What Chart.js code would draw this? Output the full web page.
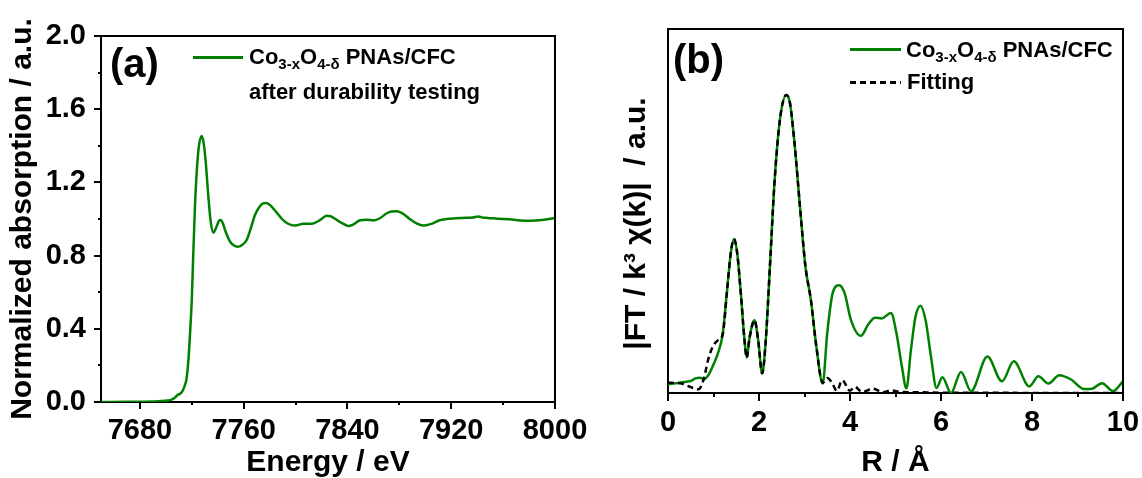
<!DOCTYPE html>
<html>
<head>
<meta charset="utf-8">
<script src="https://cdn.jsdelivr.net/npm/chart.js@4/dist/chart.umd.min.js"></script>
<style>
  body { margin:0; background:#fff; }
  #wrap { position:relative; width:1142px; height:478px; overflow:hidden; background:#fff; }
  canvas { position:absolute; top:0; }
  .t { position:absolute; font-family:"Liberation Sans", Arial, sans-serif; font-weight:bold; color:#000; white-space:nowrap; }
  .pl { font-size:40px; line-height:40px; }
  .lg { font-size:22px; line-height:22px; }
  .lg sub { font-size:15px; vertical-align:-5px; line-height:0; }
  .sw { position:absolute; height:3px; }
</style>
</head>
<body>
<div id="wrap">
  <canvas id="ca" width="600" height="478" style="left:0"></canvas>
  <canvas id="cb" width="542" height="478" style="left:600px"></canvas>

  <div class="t pl" style="left:110px;top:43px">(a)</div>
  <div class="sw" style="left:193px;top:56px;width:50px;background:#008000"></div>
  <div class="t lg" style="left:249px;top:46px">Co<sub>3-x</sub>O<sub>4-δ</sub> PNAs/CFC</div>
  <div class="t lg" style="left:249px;top:81px">after durability testing</div>

  <div class="t pl" style="left:673px;top:39px">(b)</div>
  <div class="sw" style="left:850px;top:48px;width:51px;background:#008000"></div>
  <div class="t lg" style="left:906px;top:39px">Co<sub>3-x</sub>O<sub>4-δ</sub> PNAs/CFC</div>
  <div class="sw" style="left:850px;top:81px;width:51px;background:repeating-linear-gradient(90deg,#000 0 6px,transparent 6px 10px)"></div>
  <div class="t lg" style="left:907px;top:71px">Fitting</div>
</div>
<script>
// ---------- Panel (a): XANES ----------
const energyA = [7650, 7670, 7690, 7700, 7704, 7707, 7709, 7711.5, 7713, 7714.8, 7716, 7717.5, 7719, 7720, 7721, 7722.5, 7724, 7725.5, 7727.6, 7729, 7730.5, 7732.8, 7734.5, 7736.6, 7738, 7739.7, 7741, 7742.5, 7744, 7745.6, 7749.5, 7752.5, 7755.4, 7758.5, 7762.3, 7765.5, 7768.7, 7772.5, 7775, 7777.2, 7780, 7785.5, 7789.5, 7793.2, 7796.5, 7799.6, 7806, 7813.7, 7819, 7824, 7827, 7831.7, 7836.5, 7840.7, 7844, 7849.7, 7855, 7860, 7865, 7870, 7874, 7878, 7883, 7888, 7893, 7898.5, 7904, 7911, 7919.6, 7928, 7936.5, 7940.8, 7945, 7948, 7956, 7964.7, 7973, 7981.6, 7990, 8000];
const absorbA = [0.000, 0.001, 0.003, 0.007, 0.012, 0.024, 0.038, 0.048, 0.062, 0.095, 0.13, 0.24, 0.42, 0.56, 0.78, 1.08, 1.28, 1.40, 1.453, 1.42, 1.33, 1.12, 0.99, 0.925, 0.94, 0.97, 0.99, 0.995, 0.975, 0.94, 0.876, 0.855, 0.849, 0.857, 0.885, 0.95, 1.022, 1.07, 1.085, 1.088, 1.078, 1.035, 1.0, 0.978, 0.968, 0.965, 0.974, 0.976, 0.995, 1.018, 1.015, 0.995, 0.975, 0.962, 0.968, 0.993, 0.996, 0.992, 1.004, 1.03, 1.041, 1.042, 1.028, 1.0, 0.977, 0.964, 0.972, 0.993, 1.002, 1.006, 1.008, 1.014, 1.007, 1.006, 1.001, 0.999, 0.992, 0.991, 0.995, 1.005];
const xMajorA = [7680, 7760, 7840, 7920, 8000];
const xMinorA = [7720, 7800, 7880, 7960];
const yMajorA = [0, 0.4, 0.8, 1.2, 1.6, 2.0];
const yMinorA = [0.2, 0.6, 1.0, 1.4, 1.8];

// ---------- Panel (b): FT-EXAFS ----------
const rData = [0, 0.1, 0.25, 0.4, 0.5, 0.6, 0.7, 0.8, 0.9, 1.0, 1.1, 1.2, 1.3, 1.38, 1.45, 1.52, 1.6, 1.68, 1.73, 1.79, 1.9, 1.98, 2.07, 2.15, 2.24, 2.34, 2.46, 2.6, 2.68, 2.78, 2.9, 3.02, 3.14, 3.26, 3.4, 3.5, 3.62, 3.76, 3.88, 4.02, 4.24, 4.4, 4.55, 4.7, 4.9, 5.02, 5.14, 5.24, 5.34, 5.44, 5.55, 5.66, 5.78, 5.9, 6.03, 6.22, 6.44, 6.66, 7.02, 7.34, 7.6, 7.94, 8.14, 8.36, 8.6, 8.86, 9.14, 9.3, 9.54, 9.78, 10];
const ftData = [0.24, 0.26, 0.28, 0.31, 0.33, 0.40, 0.42, 0.38, 0.52, 0.78, 1.1, 1.6, 2.84, 3.85, 4.23, 3.85, 2.75, 1.47, 0.97, 1.5, 2.0, 1.47, 0.54, 1.47, 3.48, 5.77, 7.51, 8.19, 7.97, 6.87, 5.13, 3.48, 2.56, 1.28, 0.26, 1.65, 2.75, 2.96, 2.75, 2.01, 1.57, 1.88, 2.07, 2.05, 2.2, 1.65, 0.73, 0.13, 1.19, 2.1, 2.4, 2.01, 1.0, 0.14, 0.43, 0.0, 0.58, 0.05, 1.0, 0.32, 0.87, 0.18, 0.46, 0.26, 0.49, 0.37, 0.11, 0.11, 0.27, 0.05, 0.32];
const rFit = [0, 0.26, 0.48, 0.67, 0.78, 0.89, 0.99, 1.1, 1.2, 1.3, 1.38, 1.45, 1.52, 1.6, 1.68, 1.73, 1.79, 1.9, 1.98, 2.07, 2.15, 2.24, 2.34, 2.46, 2.6, 2.68, 2.78, 2.9, 3.02, 3.14, 3.26, 3.4, 3.5, 3.6, 3.71, 3.83, 4.0, 4.1, 4.27, 4.5, 4.72, 4.9, 5.1, 5.5, 6.0, 7.0, 8.0, 9.0, 10];
const ftFit = [0.28, 0.27, 0.17, 0.10, 0.36, 0.95, 1.29, 1.45, 1.6, 2.84, 3.85, 4.23, 3.85, 2.75, 1.47, 0.97, 1.5, 2.0, 1.47, 0.54, 1.47, 3.48, 5.77, 7.51, 8.19, 7.97, 6.87, 5.13, 3.48, 2.56, 1.28, 0.28, 0.41, 0.29, 0.06, 0.35, 0.06, 0.17, 0.03, 0.12, 0.02, 0.07, 0.03, 0.02, 0.01, 0.01, 0, 0, 0];
const xMajorB = [0, 2, 4, 6, 8, 10];
const xMinorB = [1, 3, 5, 7, 9];

const FONT = '"Liberation Sans", Arial, sans-serif';
const GREEN = '#008000';

const framePlugin = {
  id: 'frame',
  afterDraw(chart, args, o) {
    const { ctx, chartArea: a } = chart;
    const xs = chart.scales.x, ys = chart.scales.y;
    ctx.save();
    ctx.strokeStyle = '#000';
    ctx.lineWidth = 2;
    ctx.beginPath();
    ctx.moveTo(a.left - 1, a.top);
    ctx.lineTo(a.right, a.top);
    ctx.lineTo(a.right, a.bottom + 1);
    ctx.stroke();
    const seg = (x1, y1, x2, y2) => { ctx.beginPath(); ctx.moveTo(x1, y1); ctx.lineTo(x2, y2); ctx.stroke(); };
    (o.xMajor || []).forEach(v => { const p = Math.round(xs.getPixelForValue(v)); seg(p, a.bottom, p, a.bottom + o.majorLen); });
    (o.xMinor || []).forEach(v => { const p = Math.round(xs.getPixelForValue(v)); seg(p, a.bottom, p, a.bottom + o.minorLen); });
    (o.yMajor || []).forEach(v => { const p = Math.round(ys.getPixelForValue(v)); seg(a.left, p, a.left - o.majorLen, p); });
    (o.yMinor || []).forEach(v => { const p = Math.round(ys.getPixelForValue(v)); seg(a.left, p, a.left - o.minorLen, p); });
    ctx.restore();
  }
};

function tickSetter(majors, minors) {
  return (s) => { s.ticks = majors.concat(minors).sort((p, q) => p - q).map(v => ({ value: v })); };
}

// Chart (a)
new Chart(document.getElementById('ca'), {
  type: 'line',
  data: {
    datasets: [{
      data: energyA.map((e, i) => ({ x: e, y: absorbA[i] })),
      borderColor: GREEN, borderWidth: 2.5, pointRadius: 0, fill: false,
      cubicInterpolationMode: 'monotone'
    }]
  },
  options: {
    responsive: false, animation: false, devicePixelRatio: 1,
    layout: { padding: { left: 0, top: 36, right: 45, bottom: 0 } },
    plugins: {
      legend: { display: false }, tooltip: { enabled: false },
      frame: { xMajor: xMajorA, xMinor: xMinorA, yMajor: yMajorA, yMinor: yMinorA, majorLen: 7, minorLen: 3 }
    },
    scales: {
      x: {
        type: 'linear', min: 7650, max: 8000,
        afterBuildTicks: tickSetter(xMajorA, xMinorA),
        afterFit: (s) => { s.height = 76; s.paddingLeft = 0; s.paddingRight = 0; },
        grid: { display: true, drawOnChartArea: false, drawTicks: true, tickLength: 7, tickColor: 'rgba(0,0,0,0)' },
        border: { display: true, color: '#000', width: 2 },
        ticks: {
          autoSkip: false, maxRotation: 0, padding: 5, color: '#000',
          font: { family: FONT, size: 29, weight: 'bold' },
          callback: (v) => xMajorA.includes(v) ? String(v) : ''
        },
        title: { display: true, text: 'Energy / eV', color: '#000', padding: 0,
          font: { family: FONT, size: 30, weight: 'bold', lineHeight: 1 } }
      },
      y: {
        type: 'linear', min: 0, max: 2.0,
        afterBuildTicks: tickSetter(yMajorA, yMinorA),
        afterFit: (s) => { s.width = 101; s.paddingTop = 0; s.paddingBottom = 0; },
        grid: { display: true, drawOnChartArea: false, drawTicks: true, tickLength: 7, tickColor: 'rgba(0,0,0,0)' },
        border: { display: true, color: '#000', width: 2 },
        ticks: {
          autoSkip: false, padding: 8, color: '#000',
          font: { family: FONT, size: 29, weight: 'bold' },
          callback: (v) => yMajorA.some(m => Math.abs(m - v) < 1e-9) ? Number(v).toFixed(1) : ''
        },
        title: { display: true, text: 'Normalized absorption / a.u.', color: '#000', padding: { top: 8, bottom: 0 },
          font: { family: FONT, size: 30, weight: 'bold', lineHeight: 1 } }
      }
    }
  },
  plugins: [framePlugin]
});

// Chart (b)
new Chart(document.getElementById('cb'), {
  type: 'line',
  data: {
    datasets: [
      {
        label: 'Fitting',
        data: rFit.map((r, i) => ({ x: r, y: ftFit[i] })),
        borderColor: '#000', borderWidth: 2.5, borderDash: [6, 4], pointRadius: 0, fill: false,
        cubicInterpolationMode: 'monotone', order: 0
      },
      {
        label: 'Co3-xO4-δ PNAs/CFC',
        data: rData.map((r, i) => ({ x: r, y: ftData[i] })),
        borderColor: GREEN, borderWidth: 2.5, pointRadius: 0, fill: false,
        cubicInterpolationMode: 'monotone', order: 1
      }
    ]
  },
  options: {
    responsive: false, animation: false, devicePixelRatio: 1,
    layout: { padding: { left: 0, top: 29, right: 19, bottom: 0 } },
    plugins: {
      legend: { display: false }, tooltip: { enabled: false },
      frame: { xMajor: xMajorB, xMinor: xMinorB, majorLen: 8, minorLen: 4 }
    },
    scales: {
      x: {
        type: 'linear', min: 0, max: 10,
        afterBuildTicks: tickSetter(xMajorB, xMinorB),
        afterFit: (s) => { s.height = 85; s.paddingLeft = 0; s.paddingRight = 0; },
        grid: { display: true, drawOnChartArea: false, drawTicks: true, tickLength: 8, tickColor: 'rgba(0,0,0,0)' },
        border: { display: true, color: '#000', width: 2 },
        ticks: {
          autoSkip: false, maxRotation: 0, padding: 5, color: '#000',
          font: { family: FONT, size: 29, weight: 'bold' },
          callback: (v) => xMajorB.includes(v) ? String(v) : ''
        },
        title: { display: true, text: 'R / Å', color: '#000', padding: 0,
          font: { family: FONT, size: 30, weight: 'bold', lineHeight: 1 } }
      },
      y: {
        type: 'linear', min: 0, max: 10,
        afterFit: (s) => { s.width = 68; s.paddingTop = 0; s.paddingBottom = 0; },
        grid: { display: true, drawOnChartArea: false, drawTicks: false },
        border: { display: true, color: '#000', width: 2 },
        ticks: { display: false },
        title: { display: true, text: '|FT / k³ χ(k)|  / a.u.   ', color: '#000', padding: { top: 22, bottom: 0 },
          font: { family: FONT, size: 30, weight: 'bold', lineHeight: 1 } }
      }
    }
  },
  plugins: [framePlugin]
});
</script>
</body>
</html>
